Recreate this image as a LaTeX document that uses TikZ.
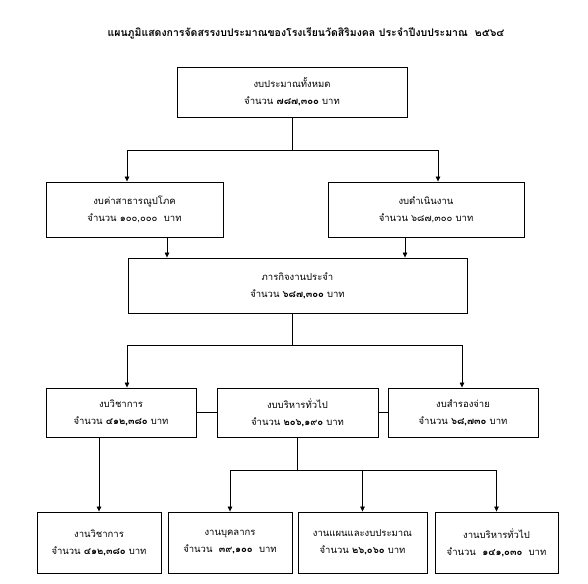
\documentclass[tikz,border=0pt]{standalone}
\usepackage{fontspec}
\newfontfamily\thai[Script=Thai]{Loma}
\usetikzlibrary{arrows.meta}
\begin{document}
\begin{tikzpicture}[x=1pt,y=-1pt,
  box/.style={draw, line width=0.9pt, inner sep=0pt, align=center,
    font=\thai\fontsize{9.5}{17}\selectfont},
  conn/.style={line width=0.7pt},
  arr/.style={conn,-{Triangle[length=5pt,width=4.5pt]}}]
\useasboundingbox (0,0) rectangle (588,583);
\node[font=\thai\bfseries\fontsize{10.5}{12}\selectfont] (title) at (306,33)
  {แผนภูมิแสดงการจัดสรรงบประมาณของโรงเรียนวัดสิริมงคล ประจำปีงบประมาณ\ \ ๒๕๖๔};
% level 0
\node[box, minimum width=230pt, minimum height=50pt] (top) at (292,92)
  {งบประมาณทั้งหมด\\จำนวน \textbf{๗๘๗,๓๐๐} บาท};
% level 1
\node[box, minimum width=177pt, minimum height=55pt] (l1a) at (134.5,209.5)
  {งบค่าสาธารณูปโภค\\จำนวน ๑๐๐,๐๐๐\ \ บาท};
\node[box, minimum width=196pt, minimum height=55pt] (l1b) at (426,209.5)
  {งบดำเนินงาน\\จำนวน ๖๘๗,๓๐๐ บาท};
% level 2
\node[box, minimum width=339pt, minimum height=55pt] (mid) at (297.5,285.5)
  {ภารกิจงานประจำ\\จำนวน \textbf{๖๘๗,๓๐๐} บาท};
% level 3
\node[box, minimum width=150pt, minimum height=49pt] (a) at (121,412.5)
  {งบวิชาการ\\จำนวน \textbf{๔๑๒,๓๘๐} บาท};
\node[box, minimum width=161pt, minimum height=49pt] (b) at (297.5,412.5)
  {งบบริหารทั่วไป\\จำนวน \textbf{๒๐๖,๑๙๐} บาท};
\node[box, minimum width=150pt, minimum height=49pt] (c) at (463,412.5)
  {งบสำรองจ่าย\\จำนวน \textbf{๖๘,๗๓๐} บาท};
% level 4
\node[box, minimum width=124pt, minimum height=61pt] (d1) at (99,542.5)
  {งานวิชาการ\\จำนวน \textbf{๔๑๒,๓๘๐} บาท};
\node[box, minimum width=124pt, minimum height=61pt] (d2) at (230,542.5)
  {งานบุคลากร\\จำนวน\ \ \textbf{๓๙,๑๐๐}\ \ บาท};
\node[box, minimum width=129pt, minimum height=61pt] (d3) at (362.5,542.5)
  {งานแผนและงบประมาณ\\จำนวน \textbf{๒๖,๐๖๐} บาท};
\node[box, minimum width=123pt, minimum height=61pt] (d4) at (496.5,542.5)
  {งานบริหารทั่วไป\\จำนวน\ \ \textbf{๑๔๑,๐๓๐}\ \ บาท};
% connectors level 0 -> 1
\coordinate (s1) at (127,150);
\coordinate (s2) at (438,150);
\coordinate (j0) at (292,150);
\draw[conn] (top.south) -- (j0);
\draw[conn] (s1) -- (s2);
\draw[arr] (s1) -- (s1 |- l1a.north);
\draw[arr] (s2) -- (s2 |- l1b.north);
% level 1 -> 2
\coordinate (p1) at (167,240);
\coordinate (p2) at (405,240);
\draw[arr] (p1 |- l1a.south) -- (p1 |- mid.north);
\draw[arr] (p2 |- l1b.south) -- (p2 |- mid.north);
% level 2 -> 3
\coordinate (j1) at (292,345);
\coordinate (s3) at (127,345);
\coordinate (s4) at (462,345);
\draw[conn] (j1 |- mid.south) -- (j1);
\draw[conn] (s3) -- (s4);
\draw[arr] (s3) -- (s3 |- a.north);
\draw[arr] (s4) -- (s4 |- c.north);
\draw[conn] (a.east) -- (b.west);
\draw[conn] (b.east) -- (c.west);
% level 3 -> 4
\draw[arr] (a.south -| d1.north) -- (d1.north);
\coordinate (j2) at (297,470);
\coordinate (s5) at (230,470);
\coordinate (s6) at (496.5,470);
\draw[conn] (j2 |- b.south) -- (j2);
\draw[conn] (s5) -- (s6);
\draw[arr] (s5) -- (d2.north);
\draw[arr] (d3.north |- s5) -- (d3.north);
\draw[arr] (s6) -- (d4.north);
\end{tikzpicture}
\end{document}
